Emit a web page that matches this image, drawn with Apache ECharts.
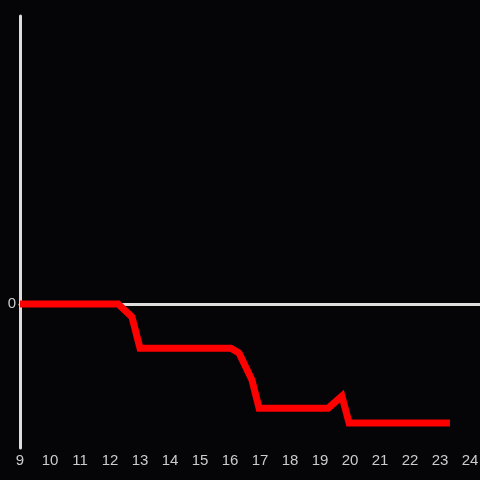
<!DOCTYPE html>
<html>
<head>
<meta charset="utf-8">
<script src="https://cdn.jsdelivr.net/npm/echarts@6/dist/echarts.min.js"></script>
<style>
  html, body { margin: 0; padding: 0; background: #050406; }
  #chart { width: 480px; height: 480px; }
</style>
</head>
<body>
<div id="chart"></div>
<script>
// hours of the day (x) and level (y)
var hours  = [9.0, 12.27, 12.73, 13.0, 16.03, 16.3, 16.73, 16.97, 19.27, 19.73, 19.97, 23.33];
var values = [0, 0, -0.27, -0.92, -0.92, -1.02, -1.58, -2.17, -2.17, -1.92, -2.48, -2.48];
var xTicks = [9, 10, 11, 12, 13, 14, 15, 16, 17, 18, 19, 20, 21, 22, 23, 24];

var points = hours.map(function(h, i){ return [h, values[i]]; });

var chart = echarts.init(document.getElementById('chart'));

var option = {
    backgroundColor: '#050406',
    animation: false,
    grid: { left: 20, right: 0, top: 16, bottom: 32, containLabel: false, outerBoundsMode: 'none' },
    xAxis: [
        {   // zero line
            type: 'value', min: 9, max: 24.333, interval: 1,
            axisLine: { show: true, onZero: true, lineStyle: { color: '#dddddd', width: 3 } },
            axisTick: { show: false },
            axisLabel: { show: false },
            splitLine: { show: false }
        },
        {   // labels at the bottom
            type: 'value', min: 9, max: 24.333, interval: 1, position: 'bottom',
            axisLine: { show: false, onZero: false },
            axisTick: { show: false },
            splitLine: { show: false },
            axisLabel: {
                color: '#cccccc', fontSize: 15, margin: 5,
                fontFamily: 'Liberation Sans, Arial, sans-serif',
                formatter: function(v){ return xTicks.indexOf(v) >= 0 ? String(v) : ''; }
            }
        }
    ],
    yAxis: {
        type: 'value', min: -3, max: 6, interval: 3,
        axisLine: { show: true, lineStyle: { color: '#dddddd', width: 3 } },
        axisTick: { show: false },
        splitLine: { show: false },
        axisLabel: {
            color: '#cccccc', fontSize: 15, margin: 4,
            fontFamily: 'Liberation Sans, Arial, sans-serif',
            formatter: function(v){ return v === 0 ? '0' : ''; }
        }
    },
    series: [{
        type: 'line',
        xAxisIndex: 1,
        data: points,
        symbol: 'none',
        lineStyle: { color: '#ff0000', width: 7, cap: 'butt', join: 'miter' }
    }]
};

chart.setOption(option);
</script>
</body>
</html>
